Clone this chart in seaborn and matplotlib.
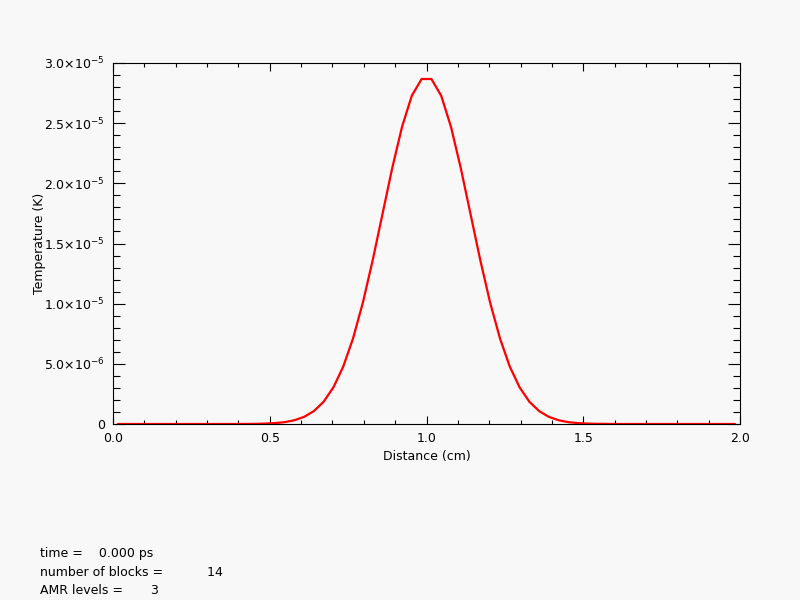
import numpy as np
import pandas as pd
import matplotlib
matplotlib.use("Agg")
import matplotlib.pyplot as plt
import seaborn as sns
from matplotlib.ticker import MultipleLocator, FixedLocator, FixedFormatter

# ---------------------------------------------------------------------
# data (cell centres, 64 cells over 2 cm)
# ---------------------------------------------------------------------
distance_cm = [
    0.015625, 0.046875, 0.078125, 0.109375, 0.140625, 0.171875, 0.203125, 0.234375,
    0.265625, 0.296875, 0.328125, 0.359375, 0.390625, 0.421875, 0.453125, 0.484375,
    0.515625, 0.546875, 0.578125, 0.609375, 0.640625, 0.671875, 0.703125, 0.734375,
    0.765625, 0.796875, 0.828125, 0.859375, 0.890625, 0.921875, 0.953125, 0.984375,
    1.015625, 1.046875, 1.078125, 1.109375, 1.140625, 1.171875, 1.203125, 1.234375,
    1.265625, 1.296875, 1.328125, 1.359375, 1.390625, 1.421875, 1.453125, 1.484375,
    1.515625, 1.546875, 1.578125, 1.609375, 1.640625, 1.671875, 1.703125, 1.734375,
    1.765625, 1.796875, 1.828125, 1.859375, 1.890625, 1.921875, 1.953125, 1.984375,
]

# temperature in units of 1e-5 K
temperature_e5 = [
    0, 0, 0, 0, 0, 0, 0, 0, 0, 0, 0, 0, 0,
    0.0006, 0.0014, 0.0033, 0.0073, 0.015, 0.031, 0.059, 0.107, 0.185, 0.305,
    0.477, 0.711, 1.007, 1.358, 1.742, 2.126, 2.469, 2.728, 2.867,
    2.867, 2.728, 2.469, 2.126, 1.742, 1.358, 1.007, 0.711, 0.477,
    0.305, 0.185, 0.107, 0.059, 0.031, 0.015, 0.0073, 0.0033, 0.0014, 0.0006,
    0, 0, 0, 0, 0, 0, 0, 0, 0, 0, 0, 0, 0,
]

y_tick_values = [0, 5e-6, 1.0e-5, 1.5e-5, 2.0e-5, 2.5e-5, 3.0e-5]
y_tick_labels = ["0", "5.0×10$^{-6}$", "1.0×10$^{-5}$", "1.5×10$^{-5}$",
                 "2.0×10$^{-5}$", "2.5×10$^{-5}$", "3.0×10$^{-5}$"]
x_tick_values = [0.0, 0.5, 1.0, 1.5, 2.0]
x_tick_labels = ["0.0", "0.5", "1.0", "1.5", "2.0"]

info_lines = [
    "time =    0.000 ps",
    "number of blocks =           14",
    "AMR levels =       3",
]

df = pd.DataFrame({"distance": distance_cm,
                   "temperature": np.array(temperature_e5) * 1e-5})

# ---------------------------------------------------------------------
# plot
# ---------------------------------------------------------------------
sns.set_style("ticks")
plt.rcParams["font.family"] = ["DejaVu Sans"]
plt.rcParams["mathtext.default"] = "regular"
plt.rcParams["text.color"] = "black"
plt.rcParams["axes.labelcolor"] = "black"

bg = "#f8f8f8"
fig = plt.figure(figsize=(8, 6), dpi=100, facecolor=bg)
ax = fig.add_axes([113 / 800, 1 - 424 / 600, 627 / 800, 361 / 600])
ax.set_facecolor(bg)

sns.lineplot(data=df, x="distance", y="temperature", color="red",
             linewidth=1.6, ax=ax, legend=False)

ax.set_xlim(0, 2.0)
ax.set_ylim(0, 3.0e-5)

ax.xaxis.set_major_locator(FixedLocator(x_tick_values))
ax.xaxis.set_major_formatter(FixedFormatter(x_tick_labels))
ax.xaxis.set_minor_locator(MultipleLocator(0.1))
ax.yaxis.set_major_locator(FixedLocator(y_tick_values))
ax.yaxis.set_major_formatter(FixedFormatter(y_tick_labels))
ax.yaxis.set_minor_locator(MultipleLocator(1e-6))

ax.tick_params(which="both", direction="in", top=True, right=True,
               colors="black", labelcolor="black", width=0.8, labelsize=9)
ax.tick_params(axis="x", which="major", length=5.5, pad=6)
ax.tick_params(axis="x", which="minor", length=3)
ax.tick_params(axis="y", which="major", length=8.5, pad=6)
ax.tick_params(axis="y", which="minor", length=5)

for side in ["top", "bottom", "left", "right"]:
    ax.spines[side].set_visible(True)
    ax.spines[side].set_color("black")
    ax.spines[side].set_linewidth(0.8)

ax.set_xlabel("Distance (cm)", fontsize=9, color="black")
ax.set_ylabel("Temperature (K)", fontsize=9, color="black")
ax.xaxis.set_label_coords(0.5, -0.072)
ax.yaxis.set_label_coords(-0.107, 0.5)

for i, line in enumerate(info_lines):
    fig.text(40 / 800, 1 - (553 + 19 * i) / 600, line, fontsize=9,
             ha="left", va="center", color="black")

fig.savefig("out.png", dpi=100, facecolor=bg)
